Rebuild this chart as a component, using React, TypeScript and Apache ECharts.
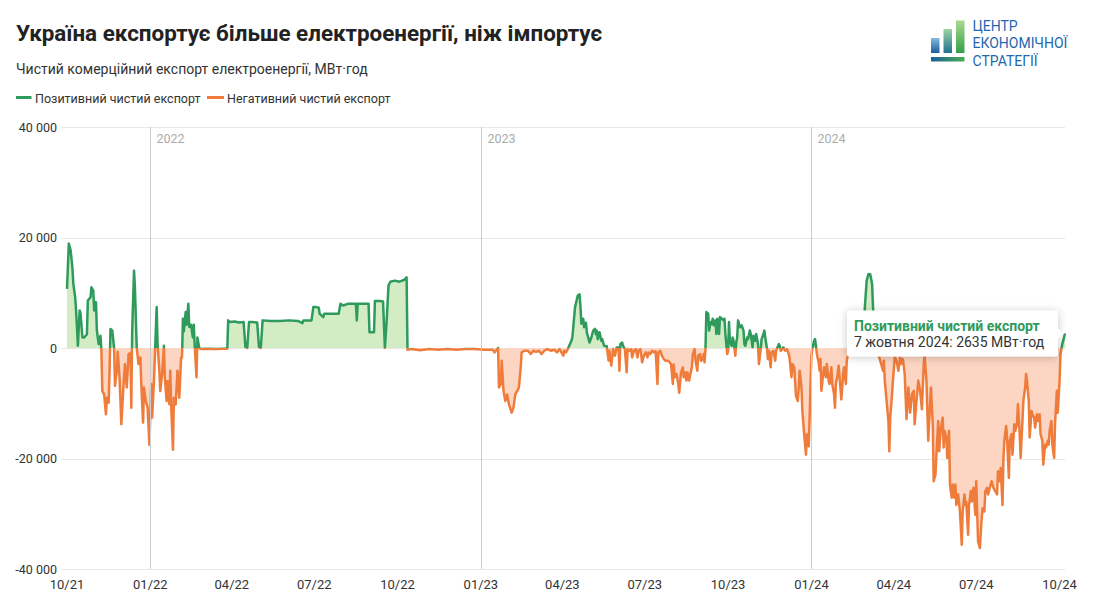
import React, { useEffect, useRef } from 'react';
import * as echarts from 'echarts';

// Day offset 0 = 1 October 2021 (local date). Values: net commercial export, MWh.
const START_Y = 2021;
const START_M = 9;
const START_D = 1;
const LAST_DAY = 1102; // 7 October 2024

const netQ4_2021: [number, number][] = [
  [0, 10700], [2, 18900], [4, 17700], [6, 14400], [7, 11600], [9, 9200], [10, 6800], [11, 3800], [12, 400],
  [14, 6800], [15, 6200], [17, 1900], [19, 1900], [22, 2500], [23, 8600], [26, 9200], [27, 11000], [29, 10400],
  [30, 6800], [32, 8300], [33, 3150], [35, 700], [37, 2200], [38, -500], [39, -7800], [41, -8400], [43, -12000],
  [44, -9000], [46, -9900], [47, -4100], [48, 3450], [50, 3150], [52, 0], [53, -6850], [55, -4100], [56, -700],
  [58, -5300], [60, -13800], [62, -7800], [64, -2900], [66, -7150], [68, -1100], [70, -900], [71, -10800],
  [72, 3150], [74, 14000], [75, 11000], [77, 0], [79, -2900], [81, -1700], [82, -6500], [84, -13500],
  [85, -7150], [87, -9600], [89, -10800], [91, -17500],
];

const net2022: [number, number][] = [
  [93, -6500], [94, -12600], [96, -6000], [97, -1700], [99, 7400], [100, 700], [102, -4100], [103, -7800],
  [105, -4700], [107, 400], [108, -5300], [110, -9600], [111, -6000], [113, -10200], [114, -4100], [115, -10200],
  [117, -18400], [118, -9000], [120, -10200], [122, -4100], [123, -6500], [124, -9000], [126, -1700], [127, -1700],
  [128, 5300], [129, 3000], [131, 6500], [132, 4200], [134, 8000], [135, 3800], [137, 4200], [139, 1900],
  [140, 4200], [141, 400], [143, -5300], [144, 1900], [146, 0], [148, -200], [155, -150], [165, -200],
  [172, -150], [177, -150], [178, 5000], [180, 4700], [185, 4800], [190, 4600], [195, 4700], [197, 200],
  [199, 0], [201, 4700], [205, 4700], [210, 4600], [212, 200], [214, 0], [216, 5000], [225, 4900], [235, 4900],
  [245, 5000], [255, 4900], [260, 4500], [261, 5000], [270, 5000], [272, 7400], [275, 7400], [278, 7300],
  [279, 6200], [283, 5600], [284, 6200], [290, 6200], [295, 6200], [300, 6200], [302, 8000], [305, 7700],
  [310, 8000], [315, 8000], [319, 8000], [320, 5000], [321, 8000], [328, 8000], [333, 8000], [334, 2850],
  [339, 2850], [340, 8500], [345, 8500], [349, 8400], [351, 0], [353, 5000], [355, 11300], [357, 12000],
  [362, 12200], [367, 12000], [372, 12300], [375, 12800], [376, -300], [380, -200], [390, -400], [400, -200],
  [410, -300], [420, -200], [430, -300], [440, -200], [450, -200],
];

const net2023: [number, number][] = [
  [460, -300], [470, -300], [472, -800], [476, 0], [477, -7150], [479, -6500], [480, -2300], [482, -7750],
  [484, -9600], [486, -8400], [488, -10200], [491, -11700], [493, -10800], [495, -8400], [497, -7800],
  [499, -7150], [501, -3500], [502, -800], [505, -500], [509, -500], [512, -1100], [515, -500], [518, -700],
  [521, -500], [524, -1100], [527, -500], [530, -200], [535, -500], [538, -300], [541, -800], [544, -200],
  [548, -1400], [549, -500], [551, -800], [553, -200], [557, 1300], [558, 1900], [559, 3750], [561, 7400],
  [564, 9500], [566, 9700], [567, 7400], [568, 4400], [569, 4900], [570, 5300], [571, 3750], [573, 4600],
  [574, 2850], [576, 1600], [577, 1000], [579, 1900], [581, 3150], [583, 3450], [584, 2500], [585, 3150],
  [586, 1600], [588, 2850], [590, 1300], [591, 1600], [593, 400], [596, 300], [598, -2300], [599, -500],
  [601, -3200], [603, -200], [605, -1400], [607, 100], [609, 100], [610, -4100], [611, 700], [613, 1000],
  [614, 400], [616, -200], [618, -4400], [619, -200], [621, -500], [623, -200], [624, -1700], [626, -500],
  [628, -200], [630, -1700], [631, -500], [633, -200], [634, -1100], [635, -2600], [637, -1400], [639, -800],
  [641, -1700], [642, -800], [644, -1100], [646, -500], [648, -800], [650, -600], [652, -6500], [653, -800],
  [655, -500], [657, -1400], [659, -2000], [661, -2300], [664, -2300], [667, -2900], [669, -6500], [670, -3000],
  [671, -5300], [673, -4700], [675, -6500], [676, -8100], [678, -4400], [680, -3500], [681, -5300], [682, -4400],
  [684, -5900], [685, -4400], [687, -5900], [688, -5000], [690, -3500], [691, -1100], [693, -200], [694, -2300],
  [696, -4100], [697, -1400], [699, -1100], [700, -2300], [702, -2000], [703, -1100], [704, -2600], [705, -200],
  [706, 6500], [708, 6200], [709, 3150], [711, 4700], [712, 4400], [713, 5300], [714, 4100], [716, 5000],
  [717, 2550], [718, 5300], [720, 2550], [721, 5600], [723, 5300], [725, 5000], [726, 5300], [727, 2550],
  [729, -1100], [730, -500], [731, 4700], [732, 1000], [734, 400], [735, 1900], [736, 1300], [738, -1400],
  [739, 1000], [740, 1900], [741, 5000], [743, 3750], [745, 4100], [747, 3150], [748, 700], [749, 400],
  [751, 1900], [752, 1600], [754, 3150], [755, 2550], [757, 100], [758, 2200], [760, 1300], [761, 2550],
  [763, 700], [764, -2900], [766, -200], [767, 1600], [769, 2550], [770, 3150], [771, 1900], [773, -200],
  [774, -2000], [775, -500], [777, -3500], [778, -800], [780, -500], [782, -2300], [783, -500], [786, 700],
  [787, 400], [788, -500], [790, -200], [791, 100], [793, -500], [795, -200], [797, -1100], [798, -2000],
  [800, -5300], [801, -2900], [803, -3500], [804, -6200], [805, -8700], [807, -9600], [808, -7150], [809, -4100],
  [811, -7150], [812, -11400], [814, -15600], [815, -17500], [816, -19300], [817, -15600], [819, -17800],
  [820, -12600], [821, -6500],
];

const net2024: [number, number][] = [
  [822, -1400], [823, -100], [825, 1300], [826, 1600], [827, 400], [828, -1100], [830, -2600], [831, -4100],
  [832, -2000], [833, -7750], [835, -4700], [836, -3500], [838, -5300], [839, -2900], [841, -5900], [842, -6500],
  [844, -3500], [845, -6500], [847, -8400], [848, -10800], [849, -6500], [851, -4700], [852, -3200], [854, -7150],
  [855, -9300], [857, -4700], [858, -3500], [860, -6500], [861, -2300], [862, -1500], [865, -800], [868, -1200],
  [871, -500], [874, -900], [877, -300], [879, 200], [881, 7400], [883, 12200], [885, 13400], [887, 13300],
  [889, 11600], [890, 7400], [892, 2500], [894, -300], [896, -1200], [898, -2300], [901, -4100], [902, -2300],
  [903, -5900], [905, -9600], [907, -13200], [908, -18700], [909, -12600], [911, -8400], [912, -5900],
  [914, -1700], [916, -2300], [918, -4100], [920, -1700], [921, -2900], [923, -2000], [925, -4700], [927, -12900],
  [929, -7150], [931, -11700], [933, -8400], [935, -7750], [936, -13800], [938, -9600], [940, -5900], [942, -7750],
  [944, -11100], [946, -2900], [947, -1400], [949, -5900], [951, -16800], [953, -10200], [954, -7150],
  [956, -13800], [957, -24100], [959, -22900], [960, -19300], [962, -13200], [963, -18700], [965, -14400],
  [967, -12600], [968, -18000], [969, -15000], [971, -16200], [972, -19900], [974, -15000], [975, -24700],
  [977, -27100], [978, -24700], [980, -27100], [981, -24700], [982, -28400], [984, -26500], [986, -29600],
  [988, -35600], [989, -29600], [991, -26500], [992, -28400], [993, -27800], [995, -33800], [996, -28400],
  [998, -25900], [999, -27800], [1001, -25300], [1003, -30200], [1004, -24100], [1006, -35000], [1008, -36200],
  [1010, -30800], [1011, -29000], [1013, -29600], [1014, -25900], [1016, -25300], [1017, -26500], [1019, -25300],
  [1021, -24100], [1023, -25300], [1025, -25900], [1027, -26500], [1028, -22300], [1030, -24100], [1031, -21700],
  [1033, -28400], [1034, -19900], [1035, -16800], [1037, -14100], [1038, -16200], [1040, -23500], [1041, -16800],
  [1043, -15600], [1044, -19300], [1046, -13800], [1047, -15000], [1049, -13800], [1050, -10200], [1052, -15600],
  [1053, -19900], [1055, -13200], [1056, -9600], [1058, -7150], [1059, -4700], [1060, -5900], [1062, -9600],
  [1063, -16200], [1065, -11400], [1066, -12000], [1068, -12600], [1069, -14400], [1071, -12000], [1072, -13200],
  [1074, -12000], [1075, -15600], [1077, -16800], [1078, -21100], [1080, -17500], [1081, -18000], [1083, -16800],
  [1084, -17500], [1085, -15000], [1087, -13200], [1088, -17500], [1090, -19900], [1091, -13800], [1093, -7750],
  [1094, -11700], [1096, -5900], [1097, -1100], [1099, 700], [1102, 2635],
];

// Axis ticks
const quarterTicks: [number, number][] = [
  [2021, 10], [2022, 1], [2022, 4], [2022, 7], [2022, 10], [2023, 1], [2023, 4],
  [2023, 7], [2023, 10], [2024, 1], [2024, 4], [2024, 7], [2024, 10],
];
const yearMarks = [2022, 2023, 2024];
const yTicks = [-40000, -20000, 0, 20000, 40000];

// Texts
const TITLE = 'Україна експортує більше електроенергії, ніж імпортує';
const SUBTITLE = 'Чистий комерційний експорт електроенергії, МВт·год';
const LEGEND_POS = 'Позитивний чистий експорт';
const LEGEND_NEG = 'Негативний чистий експорт';
const TOOLTIP_DATE = '7 жовтня 2024';
const UNIT = 'МВт·год';
const LOGO_LINES = ['ЦЕНТР', 'ЕКОНОМІЧНОЇ', 'СТРАТЕГІЇ'];

// Styles
const FONT = 'Roboto, sans-serif';
const LINE_POS = '#2e9b5d';
const LINE_NEG = '#ef7c3b';
const FILL_POS = '#d4ecc4';
const FILL_NEG = '#fcd5c3';
const LOGO_BLUE = '#2367ae';

const dayToTs = (d: number) => new Date(START_Y, START_M, START_D + d).getTime();
const fmtNum = (v: number) =>
  (v < 0 ? '-' : '') + String(Math.abs(v)).replace(/\B(?=(\d{3})+(?!\d))/g, ' ');
const fmtMonth = (val: number) => {
  const d = new Date(val);
  return String(d.getMonth() + 1).padStart(2, '0') + '/' + String(d.getFullYear() % 100).padStart(2, '0');
};

export default function App() {
  const ref = useRef<HTMLDivElement>(null);

  useEffect(() => {
    const el = ref.current;
    if (!el) return;
    const chart = echarts.init(el, null, { renderer: 'svg' });

    const data = [...netQ4_2021, ...net2022, ...net2023, ...net2024].map(([d, v]) => [dayToTs(d), v]);
    const quarterTs = quarterTicks.map(([y, m]) => new Date(y, m - 1, 1).getTime());
    const yearTs = yearMarks.map((y) => new Date(y, 0, 1).getTime());
    const yMin = yTicks[0];
    const yMax = yTicks[yTicks.length - 1];

    chart.setOption({
      animation: false,
      textStyle: { fontFamily: FONT },
      grid: { left: 67, right: 30, top: 127, bottom: 42, containLabel: false },
      xAxis: {
        type: 'time',
        min: dayToTs(0),
        max: dayToTs(LAST_DAY),
        axisLine: { show: false },
        axisTick: { show: false },
        splitLine: { show: false },
        axisLabel: { show: false },
      },
      yAxis: {
        type: 'value',
        min: yMin,
        max: yMax,
        interval: 20000,
        axisLine: { show: false },
        axisTick: { show: false },
        splitLine: { show: false },
        axisLabel: {
          formatter: (v: number) => fmtNum(v),
          color: '#333',
          fontSize: 12.5,
          fontFamily: FONT,
          margin: 10,
        },
      },
      visualMap: [
        {
          show: false,
          type: 'piecewise',
          seriesIndex: 0,
          dimension: 1,
          pieces: [
            { gte: yMin * 2, lt: 0, color: FILL_NEG },
            { gte: 0, lte: yMax * 2, color: FILL_POS },
          ],
        },
        {
          show: false,
          type: 'piecewise',
          seriesIndex: 1,
          dimension: 1,
          pieces: [
            { gte: yMin * 2, lt: 0, color: LINE_NEG },
            { gte: 0, lte: yMax * 2, color: LINE_POS },
          ],
        },
      ],
      series: [
        {
          type: 'line',
          data,
          symbol: 'none',
          showSymbol: false,
          silent: true,
          z: 1,
          lineStyle: { width: 0, opacity: 0 },
          areaStyle: { opacity: 1 },
        },
        {
          type: 'line',
          data,
          symbol: 'none',
          showSymbol: false,
          silent: true,
          z: 3,
          lineStyle: { width: 2.5, join: 'round' },
        },
      ],
    });

    const toPx = (t: number, v: number) => chart.convertToPixel({ gridIndex: 0 }, [t, v]) as number[];
    const last = data[data.length - 1];
    const [px, py] = toPx(last[0], last[1]);
    const gridRight = toPx(dayToTs(LAST_DAY), 0)[0];
    const gridLeft = toPx(dayToTs(0), 0)[0];
    const gridBottom = toPx(dayToTs(0), yMin)[1];
    const gridTop = toPx(dayToTs(0), yMax)[1];

    const elements: any[] = [];

    // horizontal gridlines (extend slightly left of plot like the original)
    yTicks.forEach((v) => {
      const y = Math.round(toPx(dayToTs(0), v)[1]) + 0.5;
      elements.push({
        type: 'line',
        z: -1,
        silent: true,
        shape: { x1: gridLeft - 5.5, y1: y, x2: gridRight, y2: y },
        style: { stroke: '#e8e8e8', lineWidth: 1 },
      });
    });

    // x axis quarter labels
    quarterTs.forEach((t) => {
      const x = toPx(t, 0)[0];
      elements.push({
        type: 'text',
        x,
        y: gridBottom + 15,
        silent: true,
        style: {
          text: fmtMonth(t),
          fill: '#333',
          fontSize: 13,
          fontFamily: FONT,
          align: 'center',
          verticalAlign: 'middle',
        },
      });
    });

    // year separators and labels
    yearTs.forEach((t, i) => {
      const x = Math.round(toPx(t, 0)[0]) + 0.5;
      elements.push({
        type: 'line',
        z: 50,
        silent: true,
        shape: { x1: x, y1: gridTop, x2: x, y2: gridBottom },
        style: { stroke: '#cdcdcd', lineWidth: 1 },
      });
      elements.push({
        type: 'text',
        x: x + 6,
        y: 138,
        silent: true,
        style: {
          text: String(yearMarks[i]),
          fill: '#ababab',
          fontSize: 12.5,
          fontFamily: FONT,
          align: 'left',
          verticalAlign: 'middle',
        },
      });
    });

    // title, subtitle
    elements.push({
      type: 'text',
      x: 16,
      y: 33,
      style: { text: TITLE, fill: '#222', fontSize: 22.4, fontWeight: 'bold', fontFamily: FONT, verticalAlign: 'middle' },
    });
    elements.push({
      type: 'text',
      x: 16,
      y: 68.5,
      style: { text: SUBTITLE, fill: '#333', fontSize: 14, fontFamily: FONT, verticalAlign: 'middle' },
    });

    // legend
    elements.push({
      type: 'line',
      shape: { x1: 16, y1: 97.5, x2: 31.5, y2: 97.5 },
      style: { stroke: LINE_POS, lineWidth: 3 },
    });
    elements.push({
      type: 'text',
      x: 35,
      y: 98.5,
      style: { text: LEGEND_POS, fill: '#333', fontSize: 12.5, fontFamily: FONT, verticalAlign: 'middle' },
    });
    elements.push({
      type: 'line',
      shape: { x1: 207, y1: 97.5, x2: 224, y2: 97.5 },
      style: { stroke: LINE_NEG, lineWidth: 3 },
    });
    elements.push({
      type: 'text',
      x: 227,
      y: 98.5,
      style: { text: LEGEND_NEG, fill: '#333', fontSize: 12.5, fontFamily: FONT, verticalAlign: 'middle' },
    });

    // logo
    const barGrad = (top: string, bottom: string) => ({
      type: 'linear', x: 0, y: 0, x2: 0, y2: 1,
      colorStops: [{ offset: 0, color: top }, { offset: 1, color: bottom }],
    });
    elements.push({ type: 'rect', shape: { x: 931, y: 38, width: 8.5, height: 15 }, style: { fill: barGrad('#86b9de', '#1d5d9c') } });
    elements.push({ type: 'rect', shape: { x: 943.5, y: 29, width: 8.5, height: 24 }, style: { fill: barGrad('#9dd3a0', '#1f6f92') } });
    elements.push({ type: 'rect', shape: { x: 956, y: 20.5, width: 8.5, height: 32.5 }, style: { fill: barGrad('#a9da8c', '#33a04c') } });
    elements.push({
      type: 'rect',
      shape: { x: 931, y: 57, width: 33.5, height: 4.5 },
      style: {
        fill: { type: 'linear', x: 0, y: 0, x2: 1, y2: 0, colorStops: [{ offset: 0, color: '#1d5d9c' }, { offset: 1, color: '#46ad4f' }] },
      },
    });
    LOGO_LINES.forEach((t, i) => {
      elements.push({
        type: 'text',
        x: 972.5,
        y: 26 + i * 17.3,
        style: { text: t, fill: LOGO_BLUE, fontSize: 14, fontFamily: FONT, verticalAlign: 'middle' },
      });
    });

    // static tooltip for the last point
    const bw = 211;
    const bh = 46;
    const bx = px - 7 - bw;
    const by = py - bh / 2;
    elements.push({
      type: 'group',
      z: 100,
      children: [
        {
          type: 'rect',
          z: 100,
          shape: { x: bx, y: by, width: bw, height: bh, r: 2 },
          style: { fill: '#fff', shadowBlur: 8, shadowColor: 'rgba(0,0,0,0.22)', shadowOffsetY: 1 },
        },
        {
          type: 'polygon',
          z: 101,
          shape: { points: [[bx + bw - 1, py - 6], [bx + bw + 6, py], [bx + bw - 1, py + 6]] },
          style: { fill: '#fff' },
        },
        {
          type: 'text',
          z: 102,
          x: bx + 7,
          y: by + 15.5,
          style: {
            text: LEGEND_POS, fill: LINE_POS, fontSize: 14, fontWeight: 'bold', fontFamily: FONT, verticalAlign: 'middle',
          },
        },
        {
          type: 'text',
          z: 102,
          x: bx + 7,
          y: by + 32,
          style: {
            text: `${TOOLTIP_DATE}: ${last[1]} ${UNIT}`, fill: '#333', fontSize: 14, fontFamily: FONT, verticalAlign: 'middle',
          },
        },
      ],
    });

    chart.setOption({ graphic: { elements } });

    return () => chart.dispose();
  }, []);

  return (
    <div
      ref={ref}
      style={{ position: 'fixed', left: 0, top: 0, width: 1095, height: 611, background: '#fff' }}
    />
  );
}
